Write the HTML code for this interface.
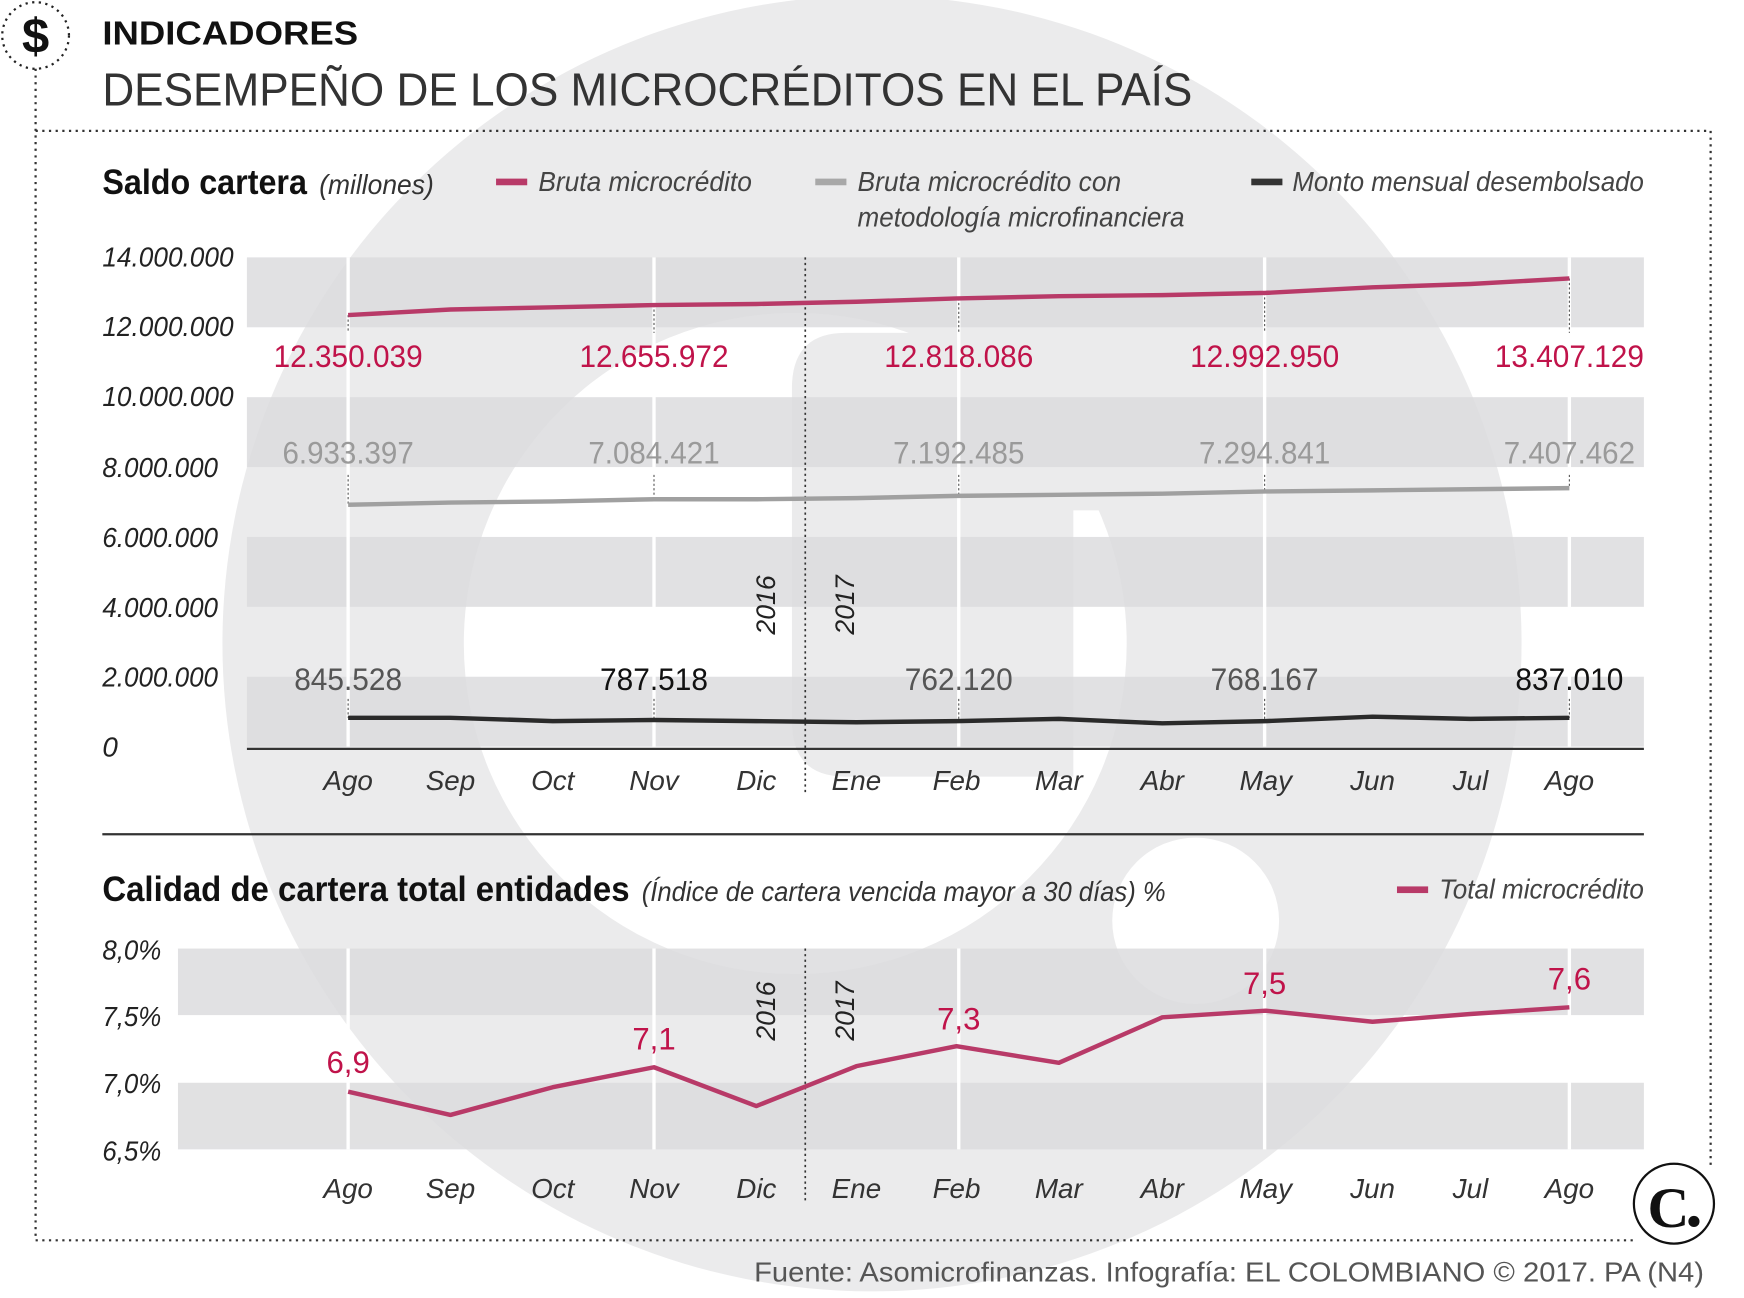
<!DOCTYPE html>
<html><head><meta charset="utf-8"><style>
html,body{margin:0;padding:0;background:#fff;width:1744px;height:1298px;overflow:hidden}
svg{display:block}
text{font-family:"Liberation Sans",sans-serif}
.it{font-style:italic}
</style></head><body>
<svg width="1744" height="1298" viewBox="0 0 1568 1170" preserveAspectRatio="none" xmlns="http://www.w3.org/2000/svg">
<!-- background logo -->
<circle cx="784" cy="580" r="584" fill="#ebebec"/>
<circle cx="715" cy="580" r="298" fill="#fff"/>
<path d="M760 300 L1000 300 L1000 460 L965 460 L965 700 L760 700 Q712 700 712 650 L712 350 Q712 300 760 300Z" fill="#ebebec"/>
<circle cx="1075" cy="830" r="75" fill="#fff"/>

<!-- header -->
<circle cx="32" cy="32" r="30" fill="none" stroke="#222" stroke-width="2" stroke-dasharray="2 4"/>
<text x="32" y="48" font-size="44" font-weight="bold" text-anchor="middle" fill="#111">$</text>
<text x="92" y="40" font-size="30" font-weight="bold" fill="#111" textLength="230" lengthAdjust="spacingAndGlyphs">INDICADORES</text>
<text x="92" y="95" font-size="42" fill="#333" textLength="980" lengthAdjust="spacingAndGlyphs">DESEMPEÑO DE LOS MICROCRÉDITOS EN EL PAÍS</text>
<g stroke="#333" stroke-width="2" stroke-dasharray="2 4" fill="none">
<line x1="32" y1="62" x2="32" y2="1118"/>
<line x1="32" y1="118" x2="1538" y2="118"/>
<line x1="1538" y1="118" x2="1538" y2="1050"/>
<line x1="32" y1="1118" x2="1470" y2="1118"/>
</g>

<!-- chart 1 legend -->
<text x="92" y="175" font-size="32" font-weight="bold" fill="#111" textLength="184" lengthAdjust="spacingAndGlyphs">Saldo cartera</text>
<text x="287" y="175" font-size="25" class="it" fill="#333" textLength="103" lengthAdjust="spacingAndGlyphs">(millones)</text>
<rect x="446" y="161" width="28" height="6" fill="#b83a68"/>
<text x="484" y="172" font-size="25" class="it" fill="#444" textLength="192" lengthAdjust="spacingAndGlyphs">Bruta microcrédito</text>
<rect x="733" y="161" width="28" height="6" fill="#a8a8a8"/>
<text x="771" y="172" font-size="25" class="it" fill="#444" textLength="237" lengthAdjust="spacingAndGlyphs">Bruta microcrédito con</text>
<text x="771" y="204" font-size="25" class="it" fill="#444" textLength="294" lengthAdjust="spacingAndGlyphs">metodología microfinanciera</text>
<rect x="1125" y="161" width="28" height="6" fill="#333"/>
<text x="1162" y="172" font-size="25" class="it" fill="#444" textLength="316" lengthAdjust="spacingAndGlyphs">Monto mensual desembolsado</text>

<!-- chart 1 bands -->
<g fill="#dcdcde" opacity="0.85">
<rect x="222" y="232" width="1256" height="63"/>
<rect x="222" y="358" width="1256" height="63"/>
<rect x="222" y="484" width="1256" height="63"/>
<rect x="222" y="610" width="1256" height="63"/>
</g>
<g stroke="#fff" stroke-width="3">
<line x1="313" y1="232" x2="313" y2="673"/><line x1="588" y1="232" x2="588" y2="673"/>
<line x1="862" y1="232" x2="862" y2="673"/><line x1="1137" y1="232" x2="1137" y2="673"/><line x1="1411" y1="232" x2="1411" y2="673"/>
</g>
<line x1="222" y1="675" x2="1478" y2="675" stroke="#333" stroke-width="2"/>
<line x1="724" y1="232" x2="724" y2="714" stroke="#333" stroke-width="1.5" stroke-dasharray="2 3"/>
<g font-size="25" class="it" fill="#222" lengthAdjust="spacingAndGlyphs">
<text x="92" y="240" textLength="118" lengthAdjust="spacingAndGlyphs">14.000.000</text>
<text x="92" y="303" textLength="118" lengthAdjust="spacingAndGlyphs">12.000.000</text>
<text x="92" y="366" textLength="118" lengthAdjust="spacingAndGlyphs">10.000.000</text>
<text x="92" y="430" textLength="104" lengthAdjust="spacingAndGlyphs">8.000.000</text>
<text x="92" y="493" textLength="104" lengthAdjust="spacingAndGlyphs">6.000.000</text>
<text x="92" y="556" textLength="104" lengthAdjust="spacingAndGlyphs">4.000.000</text>
<text x="92" y="619" textLength="104" lengthAdjust="spacingAndGlyphs">2.000.000</text>
<text x="92" y="682">0</text>
</g>
<g font-size="25" class="it" fill="#333" text-anchor="middle">
<text x="313" y="712">Ago</text><text x="405" y="712">Sep</text><text x="497" y="712">Oct</text><text x="588" y="712">Nov</text><text x="680" y="712">Dic</text>
<text x="770" y="712">Ene</text><text x="860" y="712">Feb</text><text x="952" y="712">Mar</text><text x="1045" y="712">Abr</text><text x="1138" y="712">May</text>
<text x="1234" y="712">Jun</text><text x="1322" y="712">Jul</text><text x="1411" y="712">Ago</text>
</g>
<text transform="translate(697,572) rotate(-90)" font-size="24" class="it" fill="#222">2016</text>
<text transform="translate(768,572) rotate(-90)" font-size="24" class="it" fill="#222">2017</text>

<!-- dotted markers -->
<g stroke="#555" stroke-width="1" stroke-dasharray="2 2">
<line x1="313" y1="284" x2="313" y2="300"/><line x1="588" y1="275" x2="588" y2="300"/><line x1="862" y1="269" x2="862" y2="300"/><line x1="1137" y1="264" x2="1137" y2="300"/><line x1="1411" y1="251" x2="1411" y2="300"/>
<line x1="313" y1="428" x2="313" y2="455"/><line x1="588" y1="428" x2="588" y2="450"/><line x1="862" y1="428" x2="862" y2="446"/><line x1="1137" y1="428" x2="1137" y2="443"/><line x1="1411" y1="428" x2="1411" y2="440"/>
<line x1="313" y1="630" x2="313" y2="647"/><line x1="588" y1="630" x2="588" y2="649"/><line x1="862" y1="630" x2="862" y2="650"/><line x1="1137" y1="630" x2="1137" y2="650"/><line x1="1411" y1="630" x2="1411" y2="647"/>
</g>
<polyline points="313,284 405,279 497,277 588,275 680,274 770,272 860,269 952,267 1045,266 1138,264 1234,259 1322,256 1411,251" fill="none" stroke="#b83a68" stroke-width="4"/>
<polyline points="313,455 405,453 497,452 588,450 680,450 770,449 860,447 952,446 1045,445 1138,443 1234,442 1322,441 1411,440" fill="none" stroke="#a0a0a0" stroke-width="4"/>
<polyline points="313,647 405,647 497,650 588,649 680,650 770,651 860,650 952,648 1045,652 1138,650 1234,646 1322,648 1411,647" fill="none" stroke="#2a2a2a" stroke-width="4"/>
<g font-size="28" fill="#c0134a" text-anchor="middle">
<text x="313" y="331" textLength="134" lengthAdjust="spacingAndGlyphs">12.350.039</text>
<text x="588" y="331" textLength="134" lengthAdjust="spacingAndGlyphs">12.655.972</text>
<text x="862" y="331" textLength="134" lengthAdjust="spacingAndGlyphs">12.818.086</text>
<text x="1137" y="331" textLength="134" lengthAdjust="spacingAndGlyphs">12.992.950</text>
<text x="1411" y="331" textLength="134" lengthAdjust="spacingAndGlyphs">13.407.129</text>
</g>
<g font-size="28" fill="#9a9a9a" text-anchor="middle">
<text x="313" y="418" textLength="118" lengthAdjust="spacingAndGlyphs">6.933.397</text>
<text x="588" y="418" textLength="118" lengthAdjust="spacingAndGlyphs">7.084.421</text>
<text x="862" y="418" textLength="118" lengthAdjust="spacingAndGlyphs">7.192.485</text>
<text x="1137" y="418" textLength="118" lengthAdjust="spacingAndGlyphs">7.294.841</text>
<text x="1411" y="418" textLength="118" lengthAdjust="spacingAndGlyphs">7.407.462</text>
</g>
<g font-size="28" fill="#333" text-anchor="middle">
<text x="313" y="622" fill="#555" textLength="97" lengthAdjust="spacingAndGlyphs">845.528</text>
<text x="588" y="622" fill="#111" textLength="97" lengthAdjust="spacingAndGlyphs">787.518</text>
<text x="862" y="622" fill="#555" textLength="97" lengthAdjust="spacingAndGlyphs">762.120</text>
<text x="1137" y="622" fill="#555" textLength="97" lengthAdjust="spacingAndGlyphs">768.167</text>
<text x="1411" y="622" fill="#111" textLength="97" lengthAdjust="spacingAndGlyphs">837.010</text>
</g>

<line x1="92" y1="752" x2="1478" y2="752" stroke="#333" stroke-width="2"/>

<!-- chart 2 -->
<text x="92" y="812" font-size="32" font-weight="bold" fill="#111" textLength="474" lengthAdjust="spacingAndGlyphs">Calidad de cartera total entidades</text>
<text x="577" y="812" font-size="25" class="it" fill="#333" textLength="471" lengthAdjust="spacingAndGlyphs">(Índice de cartera vencida mayor a 30 días) %</text>
<rect x="1256" y="799" width="28" height="6" fill="#b83a68"/>
<text x="1294" y="810" font-size="25" class="it" fill="#444" textLength="184" lengthAdjust="spacingAndGlyphs">Total microcrédito</text>
<g fill="#dcdcde" opacity="0.85">
<rect x="160" y="855" width="1318" height="60"/>
<rect x="160" y="976" width="1318" height="60"/>
</g>
<g stroke="#fff" stroke-width="3">
<line x1="313" y1="855" x2="313" y2="1036"/><line x1="588" y1="855" x2="588" y2="1036"/>
<line x1="862" y1="855" x2="862" y2="1036"/><line x1="1137" y1="855" x2="1137" y2="1036"/><line x1="1411" y1="855" x2="1411" y2="1036"/>
</g>
<line x1="724" y1="855" x2="724" y2="1082" stroke="#333" stroke-width="1.5" stroke-dasharray="2 3"/>
<g font-size="25" class="it" fill="#222">
<text x="92" y="865" textLength="53" lengthAdjust="spacingAndGlyphs">8,0%</text>
<text x="92" y="925" textLength="53" lengthAdjust="spacingAndGlyphs">7,5%</text>
<text x="92" y="985" textLength="53" lengthAdjust="spacingAndGlyphs">7,0%</text>
<text x="92" y="1046" textLength="53" lengthAdjust="spacingAndGlyphs">6,5%</text>
</g>
<g font-size="25" class="it" fill="#333" text-anchor="middle">
<text x="313" y="1080">Ago</text><text x="405" y="1080">Sep</text><text x="497" y="1080">Oct</text><text x="588" y="1080">Nov</text><text x="680" y="1080">Dic</text>
<text x="770" y="1080">Ene</text><text x="860" y="1080">Feb</text><text x="952" y="1080">Mar</text><text x="1045" y="1080">Abr</text><text x="1138" y="1080">May</text>
<text x="1234" y="1080">Jun</text><text x="1322" y="1080">Jul</text><text x="1411" y="1080">Ago</text>
</g>
<text transform="translate(697,938) rotate(-90)" font-size="24" class="it" fill="#222">2016</text>
<text transform="translate(768,938) rotate(-90)" font-size="24" class="it" fill="#222">2017</text>
<polyline points="313,984 405,1005 497,980 588,962 680,997 770,961 860,943 952,958 1045,917 1138,911 1234,921 1322,914 1411,908" fill="none" stroke="#b83a68" stroke-width="4" stroke-linejoin="round"/>
<g font-size="28" fill="#c0134a" text-anchor="middle">
<text x="313" y="967">6,9</text><text x="588" y="946">7,1</text><text x="862" y="928">7,3</text><text x="1137" y="896">7,5</text><text x="1411" y="892">7,6</text>
</g>

<!-- logo -->
<circle cx="1505" cy="1085" r="36" fill="#fff" stroke="#111" stroke-width="2"/>
<text x="1500" y="1106" font-size="52" font-weight="bold" fill="#111" text-anchor="middle" style="font-family:'Liberation Serif',serif">C</text>
<circle cx="1523" cy="1101" r="5" fill="#111"/>
<text x="678" y="1155" font-size="25" fill="#555" textLength="854" lengthAdjust="spacingAndGlyphs">Fuente: Asomicrofinanzas. Infografía: EL COLOMBIANO © 2017. PA (N4)</text>
</svg>
</body></html>
